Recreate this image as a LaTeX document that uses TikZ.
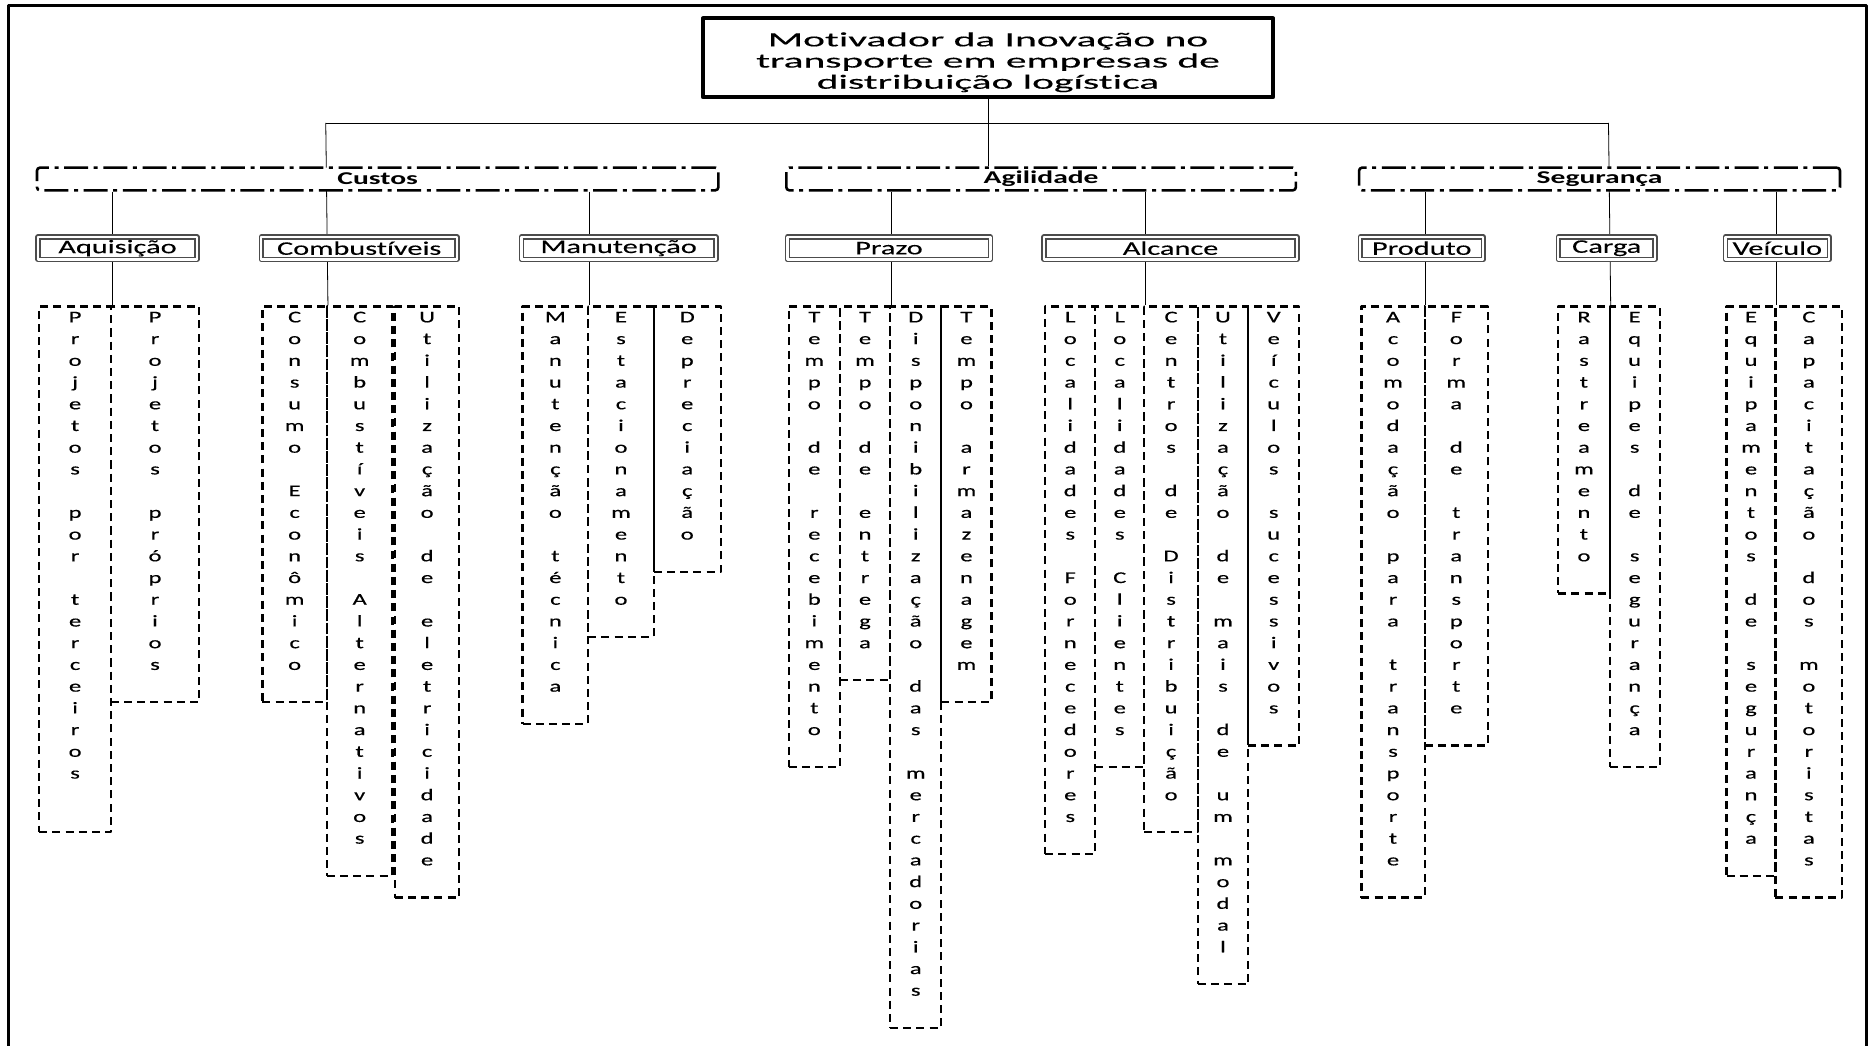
\documentclass[tikz,border=0pt]{standalone}
\usepackage{fontspec}
\setmainfont{Carlito}
\newfontfamily\titlefont[FakeStretch=2.05, FakeBold=0.4, Ligatures=NoCommon]{Carlito}
\newfontfamily\catfont[FakeStretch=1.64, Ligatures=NoCommon]{Carlito}
\newfontfamily\boxfont[FakeStretch=1.58, FakeBold=0.2, Ligatures=NoCommon]{Carlito}
\newfontfamily\leaffont[FakeStretch=1.5, FakeBold=0.4]{Carlito}
\usetikzlibrary{backgrounds}
\newdimen\px \px=0.5966pt
% one letter per row, a space gives an empty row
\newcommand\vwrow[1]{\hbox to 0pt{\hss\vrule height 7.9pt depth 2.96pt width 0pt\relax#1\hss}}
\ExplSyntaxOn
\tl_new:N \l_vw_rows_tl
\NewDocumentCommand \vword { m }
 {
  \tl_clear:N \l_vw_rows_tl
  \str_map_inline:nn { #1 }
   { \tl_put_right:Nn \l_vw_rows_tl { \vwrow { ##1 } } }
  \vbox { \offinterlineskip \l_vw_rows_tl \vskip 13.1pt }
 }
\ExplSyntaxOff
\begin{document}
\begin{tikzpicture}[x=\px, y=-\px, line join=round,
    titlebox/.style={draw, line width=2pt, fill=white, align=center, inner sep=0pt,
        minimum width=478\px, minimum height=66\px, font=\titlefont\fontsize{10.1}{10.6}\selectfont},
    catbox/.style={draw, line width=1.3pt, rounded corners=1.5pt, dash pattern=on 12pt off 2.8pt on 2pt off 2.8pt,
        fill=white, inner sep=0pt, minimum height=19\px, font=\catfont\bfseries\fontsize{9}{10}\selectfont},
    subbox/.style={draw=black!70, double=white, double distance=1.1pt, line width=.8pt, fill=white,
        inner sep=0pt, minimum height=19\px, font=\boxfont\fontsize{9.6}{11}\selectfont},
    leaf/.style={draw, line width=1.1pt, dash pattern=on 4pt off 2.6pt, anchor=north west,
        inner sep=0pt, font=\leaffont\fontsize{8.2}{9}\selectfont}]
    \useasboundingbox (0,0) rectangle (1568,876);
    \draw[line width=1.5pt] (7,5) rectangle (1564,890);

    \node[titlebox] (motiv) at (828,48.5) {\rule{0pt}{12.66pt}Motivador da Inovação no\\transporte em empresas de\\distribuição logística\rule[-3pt]{0pt}{3pt}};

    \node[catbox, minimum width=571\px] (custos) at (316.5,150) {Custos};
    \node[catbox, minimum width=427\px] (agil) at (872.5,150) {Agilidade};
    \node[catbox, minimum width=403\px] (seg) at (1340.5,150) {Segurança};

    \node[subbox, minimum width=133\px] (aquis) at (98.5,208) {Aquisição};
    \node[subbox, minimum width=164\px] (combust) at (301,208) {Combustíveis};
    \node[subbox, minimum width=163\px] (manut) at (518.5,208) {Manutenção};
    \node[subbox, minimum width=170\px] (prazo) at (745,208) {Prazo};
    \node[subbox, minimum width=212\px] (alcance) at (981,208) {Alcance};
    \node[subbox, minimum width=103\px] (produto) at (1191.5,208) {Produto};
    \node[subbox, minimum width=81\px] (carga) at (1346.5,208) {Carga};
    \node[subbox, minimum width=87\px] (veiculo) at (1489.5,208) {Veículo};

    \node[leaf, minimum width=60\px] (terc) at (32,256) {\vword{Projetos por terceiros }};
    \node[leaf, minimum width=74\px] (propr) at (92,256) {\vword{Projetos próprios}};
    \node[leaf, minimum width=54\px] (consumo) at (219,256) {\vword{Consumo Econômico}};
    \node[leaf, minimum width=55\px] (altern) at (273,256) {\vword{Combustíveis Alternativos}};
    \node[leaf, minimum width=54\px] (eletr) at (330,256) {\vword{Utilização de eletricidade}};
    \node[leaf, minimum width=55\px] (mtec) at (437,256) {\vword{Manutenção técnica}};
    \node[leaf, minimum width=55\px] (estac) at (492,256) {\vword{Estacionamento}};
    \node[leaf, minimum width=56\px] (deprec) at (547,256) {\vword{Depreciação}};
    \node[leaf, minimum width=43\px] (receb) at (660,256) {\vword{Tempo de recebimento}};
    \node[leaf, minimum width=42\px] (entrega) at (703,256) {\vword{Tempo de entrega}};
    \node[leaf, minimum width=43\px] (dispon) at (745,256) {\vword{Disponibilização das mercadorias}};
    \node[leaf, minimum width=42\px] (armaz) at (788,256) {\vword{Tempo armazenagem}};
    \node[leaf, minimum width=42\px] (lforn) at (875,256) {\vword{Localidades Fornecedores}};
    \node[leaf, minimum width=41\px] (lcli) at (917,256) {\vword{Localidades Clientes}};
    \node[leaf, minimum width=45\px] (centros) at (958,256) {\vword{Centros de Distribuição}};
    \node[leaf, minimum width=42\px] (modal) at (1003,256) {\vword{Utilização de mais de um modal}};
    \node[leaf, minimum width=43\px] (vsuc) at (1045,256) {\vword{Veículos sucessivos}};
    \node[leaf, minimum width=53\px] (acomod) at (1140,256) {\vword{Acomodação para transporte}};
    \node[leaf, minimum width=53\px] (forma) at (1193,256) {\vword{Forma de transporte}};
    \node[leaf, minimum width=43\px] (rastr) at (1305,256) {\vword{Rastreamento}};
    \node[leaf, minimum width=42\px] (equipes) at (1348,256) {\vword{Equipes de segurança}};
    \node[leaf, minimum width=41\px] (eqseg) at (1446,256) {\vword{Equipamentos de segurança}};
    \node[leaf, minimum width=56\px] (capac) at (1487,256) {\vword{Capacitação dos motoristas}};

    \begin{scope}[on background layer, line width=1pt]
        \fill[white] (0,0) rectangle (1568,876);
        \coordinate (busL) at (273,103);
        \coordinate (busR) at (1348,103);
        \draw (busL) -- (busR);
        \draw (motiv.south) -- (motiv.south |- agil.north);
        \draw (busL) -- (consumo.north east);
        \draw (busR) -- (rastr.north east);
        \draw (custos.south -| terc.north east) -- (terc.north east);
        \draw (custos.south -| mtec.north east) -- (mtec.north east);
        \draw (agil.south -| entrega.north east) -- (entrega.north east);
        \draw (agil.south -| lcli.north east) -- (lcli.north east);
        \draw (seg.south -| acomod.north east) -- (acomod.north east);
        \draw (seg.south -| eqseg.north east) -- (eqseg.north east);
    \end{scope}
\end{tikzpicture}
\end{document}
